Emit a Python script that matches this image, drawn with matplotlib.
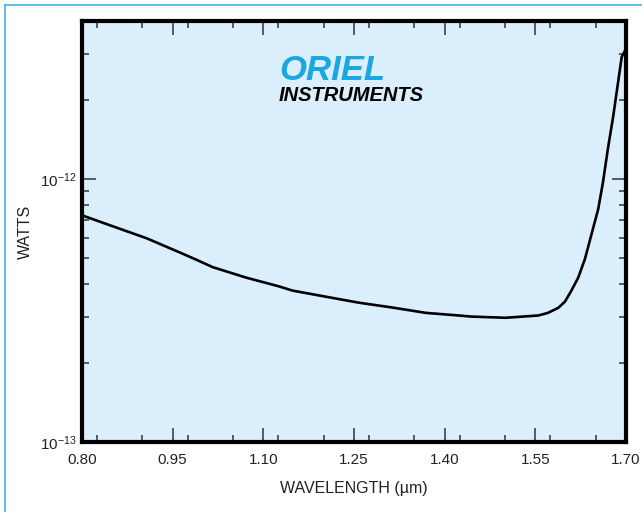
import numpy as np
import matplotlib.pyplot as plt
from matplotlib.lines import Line2D
from matplotlib.ticker import MultipleLocator, FixedLocator, LogLocator, NullFormatter

# wavelength (um) and detector power (W)
wavelength = [0.800, 0.805, 0.851, 0.907, 0.962, 0.990, 1.016, 1.044, 1.072,
              1.126, 1.148, 1.204, 1.258, 1.313, 1.369, 1.423, 1.445, 1.501,
              1.555, 1.571, 1.588, 1.599, 1.609, 1.621, 1.632, 1.642, 1.654,
              1.662, 1.670, 1.679, 1.687, 1.693, 1.699]
watts = [7.30e-13, 7.22e-13, 6.62e-13, 5.96e-13, 5.26e-13, 4.93e-13, 4.63e-13,
         4.42e-13, 4.22e-13, 3.91e-13, 3.77e-13, 3.57e-13, 3.39e-13, 3.25e-13,
         3.10e-13, 3.03e-13, 3.00e-13, 2.97e-13, 3.03e-13, 3.10e-13, 3.24e-13,
         3.42e-13, 3.74e-13, 4.22e-13, 4.96e-13, 6.05e-13, 7.68e-13, 9.74e-13,
         1.30e-12, 1.74e-12, 2.34e-12, 2.92e-12, 3.10e-12]

x_ticks = [0.80, 0.95, 1.10, 1.25, 1.40, 1.55, 1.70]
x_labels = ["0.80", "0.95", "1.10", "1.25", "1.40", "1.55", "1.70"]
y_ticks = [1e-13, 1e-12]

plt.rcParams.update({
    "font.family": ["Liberation Sans", "DejaVu Sans"],
    "mathtext.default": "regular",
    "font.size": 10.5,
})

fig = plt.figure(figsize=(6.42, 5.12), dpi=100)
ax = fig.add_axes([0.1277, 0.1367, 0.975 - 0.1277, 0.959 - 0.1367])
ax.set_facecolor("#dbeefb")

ax.plot(wavelength, watts, color="black", linewidth=1.9,
        solid_joinstyle="round", solid_capstyle="round")

ax.set_yscale("log")
ax.set_xlim(0.80, 1.70)
ax.set_ylim(1e-13, 4e-12)
ax.set_xticks(x_ticks)
ax.set_xticklabels(x_labels)
ax.xaxis.set_minor_locator(MultipleLocator(0.075))
ax.yaxis.set_major_locator(FixedLocator(y_ticks))
ax.yaxis.set_minor_locator(LogLocator(base=10, subs=np.arange(2, 10)))
ax.yaxis.set_minor_formatter(NullFormatter())

for s in ax.spines.values():
    s.set_linewidth(3.0)
    s.set_color("black")
ax.tick_params(which="both", direction="in", top=True, right=True,
               color="#333333", labelcolor="#222222")
ax.tick_params(which="major", length=10, width=1.1)
ax.tick_params(which="minor", length=5, width=1.1)
ax.tick_params(axis="x", which="major", pad=8, labelsize=11)
ax.tick_params(axis="y", which="major", pad=4, labelsize=11)

ax.set_xlabel("WAVELENGTH (\u00b5m)", fontsize=11.5, color="#222222", labelpad=10)
ax.set_ylabel("WATTS", fontsize=11.5, color="#222222")
ax.yaxis.set_label_coords(-0.09, 0.5)

# logo
ax.text(0.362, 0.882, "ORIEL", transform=ax.transAxes, fontsize=25,
        fontweight="bold", fontstyle="italic", color="#1ba8e2",
        ha="left", va="center")
ax.text(0.362, 0.822, "INSTRUMENTS", transform=ax.transAxes, fontsize=14.5,
        fontweight="bold", fontstyle="italic", color="black",
        ha="left", va="center")

# thin blue page border
fig.add_artist(Line2D([5 / 642, 5 / 642], [0, 1 - 5 / 512],
                      transform=fig.transFigure, color="#3fb4e6", linewidth=1.2))
fig.add_artist(Line2D([5 / 642, 1], [1 - 5 / 512, 1 - 5 / 512],
                      transform=fig.transFigure, color="#3fb4e6", linewidth=1.2))

fig.savefig("out.png", dpi=100)
